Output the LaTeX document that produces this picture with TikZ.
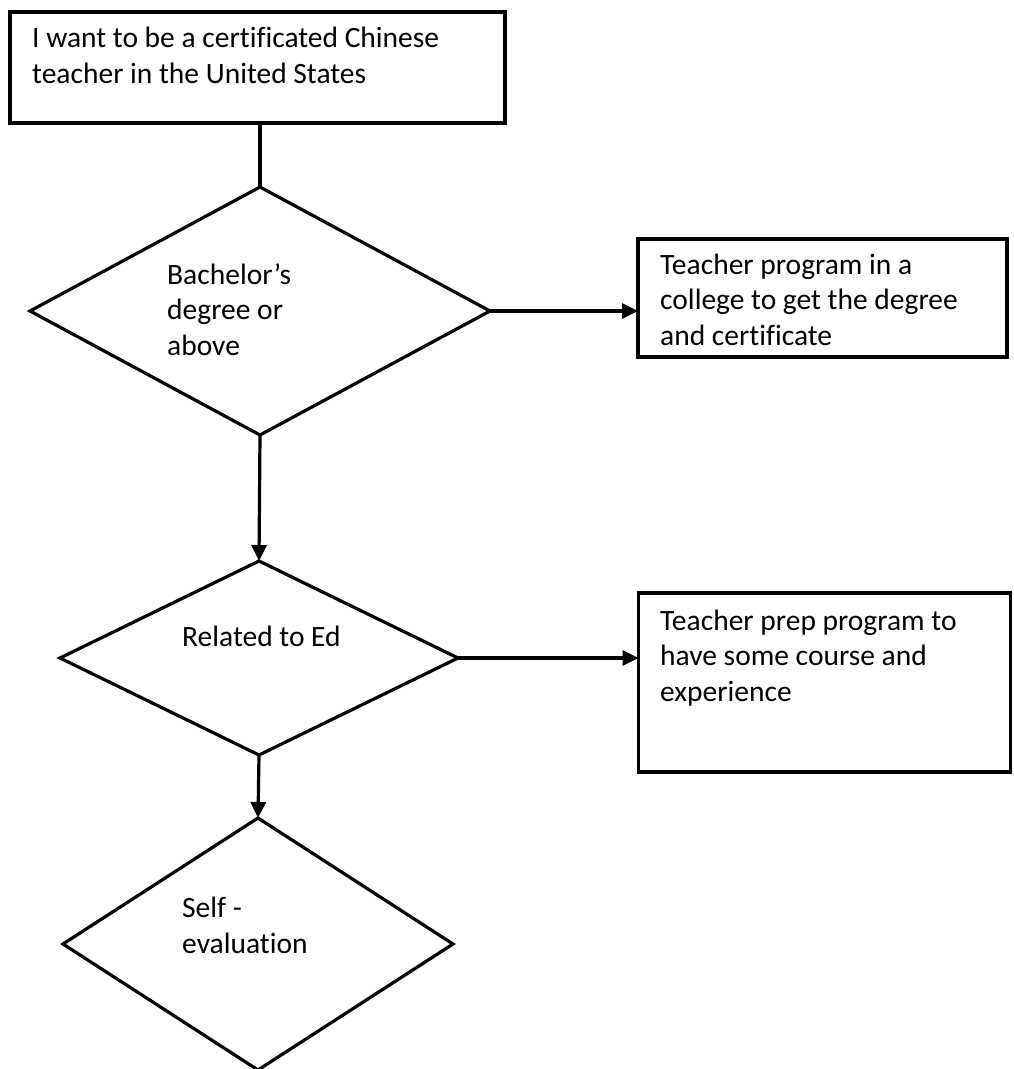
\documentclass[tikz,border=0pt]{standalone}
\usepackage{fontspec}
\setmainfont{Carlito}[Ligatures=NoCommon]
\usetikzlibrary{shapes.geometric,arrows.meta}
\begin{document}
\begin{tikzpicture}[x=1pt,y=-1pt,
  box/.style={draw,line width=3.2pt,rectangle,outer sep=0pt,inner sep=0pt},
  dec/.style={draw,line width=3.2pt,diamond,outer sep=0pt,inner sep=0pt},
  txt/.style={anchor=base west,inner sep=0pt,align=left,font=\fontsize{29.5}{35.5}\selectfont},
  conn/.style={line width=3.2pt},
  arr/.style={line width=3.2pt,-{Triangle[length=16pt,width=15pt]}}]
\useasboundingbox (0,0) rectangle (1013,1069);
% boxes
\node[box,minimum width=495pt,minimum height=111pt] (top) at (257.5,67.5) {};
\node[box,minimum width=369pt,minimum height=118pt] (b2) at (822.5,298) {};
\node[box,minimum width=372pt,minimum height=179pt] (b3) at (824.5,682.5) {};
% diamonds
\node[dec,minimum width=460pt,minimum height=248pt] (d1) at (260,311) {};
\node[dec,minimum width=398pt,minimum height=194pt] (d2) at (259,658) {};
\node[dec,minimum width=390pt,minimum height=252pt] (d3) at (258,944) {};
% texts (anchored at the baseline of the last line)
\node[txt] (ttop) at (32,83) {I want to be a certificated Chinese\\teacher in the United States};
\node[txt] (tb2) at (660,345) {Teacher program in a\\college to get the degree\\and certificate};
\node[txt] (tb3) at (660,701) {Teacher prep program to\\have some course and\\experience};
\node[txt] (td1) at (167,355) {Bachelor’s\\degree or\\above};
\node[txt] (td2) at (182,646) {Related to Ed};
\node[txt] (td3) at (182,953) {Self -\\evaluation};
% connectors
\draw[conn] (d1.north |- top.south) -- (d1.north);
\draw[arr] (d1.east) -- (b2.west |- d1.east);
\draw[arr] (d1.south) -- (d2.north);
\draw[arr] (d2.east) -- (b3.west |- d2.east);
\draw[arr] (d2.south) -- (d3.north);
\end{tikzpicture}
\end{document}
